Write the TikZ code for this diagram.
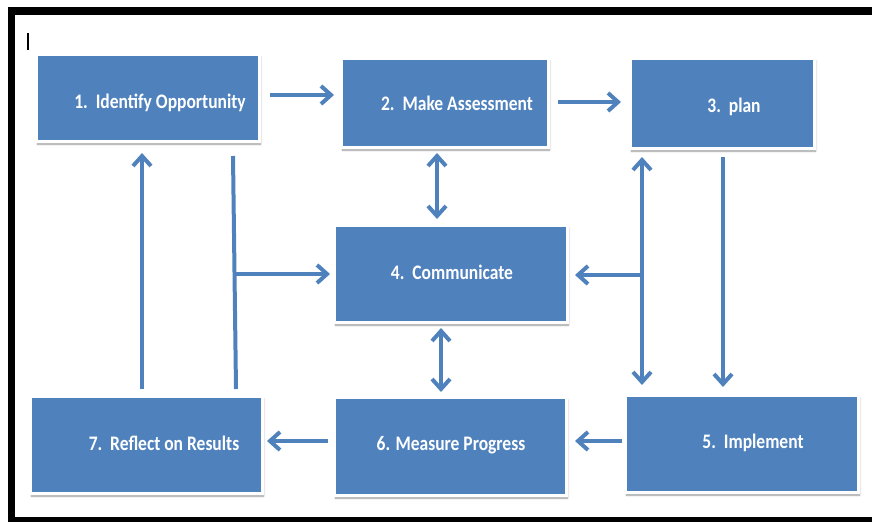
\documentclass[tikz,border=0pt]{standalone}
\usepackage{fontspec}
\setmainfont{Carlito}
\usetikzlibrary{arrows.meta,shadows.blur}
\definecolor{officeblue}{HTML}{4F81BD}
\begin{document}
\begin{tikzpicture}[x=1pt,y=-1pt,
  stepbox/.style={draw=white,line width=3pt,fill=officeblue,
    blur shadow={shadow opacity=40,shadow xshift=1pt,shadow yshift=-2.5pt,shadow blur radius=2pt,shadow blur steps=5},
    minimum width=#1},
  boxh/.style={minimum height=#1},
  steptext/.style={text=white,font=\bfseries\fontsize{17.5}{20}\selectfont,inner sep=0pt},
  link/.style={draw=officeblue,line width=4pt},
  arr/.style={link,-{Straight Barb[length=10pt,width=18pt]}},
  darr/.style={link,{Straight Barb[length=10pt,width=18pt]}-{Straight Barb[length=10pt,width=18pt]}},
  frame/.style={fill=black}]
\newcommand{\tallText}[1]{\scalebox{1}[1.18]{#1}}
\useasboundingbox (0,0) rectangle (872,522);
% outer frame
\fill[frame] (8,7) rectangle (872,15);
\fill[frame] (8,7) rectangle (15,522);
\fill[frame] (8,517) rectangle (872,522);
% text cursor
\draw[line width=1.3pt] (28,33) -- (28,50);
% boxes
\node[stepbox=223pt,boxh=87pt] (b1) at (148,98) {};
\node[stepbox=207pt,boxh=89pt] (b2) at (445,103) {};
\node[stepbox=184pt,boxh=90pt] (b3) at (722.5,103.5) {};
\node[stepbox=233pt,boxh=97pt] (b4) at (451,274) {};
\node[stepbox=233pt,boxh=97pt] (b5) at (742,444) {};
\node[stepbox=232pt,boxh=98pt] (b6) at (450.5,446.5) {};
\node[stepbox=232pt,boxh=97pt] (b7) at (146.5,445) {};
% labels
\node[steptext] (t1) at (160,103) {\tallText{1.\ \ Identify\ Opportunity}};
\node[steptext] (t2) at (457,103) {\tallText{2.\ \ Make Assessment}};
\node[steptext] (t3) at (734,107) {\tallText{3.\ \ plan}};
\node[steptext] (t4) at (452,272) {\tallText{4.\ \ Communicate}};
\node[steptext] (t5) at (753,443) {\tallText{5.\ \ Implement}};
\node[steptext] (t6) at (451,445) {\tallText{6. Measure Progress}};
\node[steptext] (t7) at (164,443) {\tallText{7.\ \ Reflect on Results}};
% junction points
\coordinate (jl) at (234,274);
\coordinate (jr) at (642,275);
% connectors
\draw[arr] ([xshift=9pt]b1.east |- 0,95) -- ([xshift=-6pt]b2.west |- 0,95);
\draw[arr] ([xshift=8pt]b2.east |- 0,102) -- ([xshift=-8pt]b3.west |- 0,102);
\draw[darr] ([yshift=-4pt]b2.south -| 437,0) -- ([yshift=5pt]b4.north -| 437,0);
\draw[darr] ([yshift=-4pt]b4.south -| 441,0) -- ([yshift=4pt]b6.north -| 441,0);
\draw[darr] ([yshift=-7pt]b3.south -| 642,0) -- ([yshift=9pt]b5.north -| 642,0);
\draw[arr] ([yshift=-7pt]b3.south -| 723,0) -- ([yshift=7pt]b5.north -| 723,0);
\draw[arr] (jr) -- ([xshift=6pt]b4.east |- jr);
\draw[link] ([yshift=-13pt]b1.south -| 233,0) -- ([yshift=6pt]b7.north -| 236,0);
\draw[arr] (jl) -- ([xshift=-3pt]b4.west |- jl);
\draw[arr] ([yshift=6pt]b7.north -| 142,0) -- ([yshift=-10pt]b1.south -| 142,0);
\draw[arr] ([xshift=-2pt]b5.west |- 0,441) -- ([xshift=7pt]b6.east |- 0,441);
\draw[arr] ([xshift=-5pt]b6.west |- 0,441) -- ([xshift=3pt]b7.east |- 0,441);
\end{tikzpicture}
\end{document}
